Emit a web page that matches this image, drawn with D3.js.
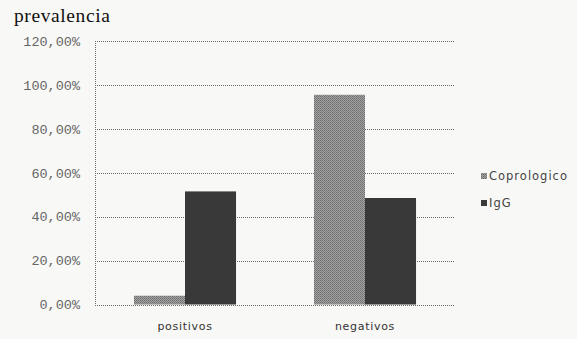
<!DOCTYPE html>
<html>
<head>
<meta charset="utf-8">
<script src="https://cdn.jsdelivr.net/npm/d3@7"></script>
<style>
  html, body { margin: 0; padding: 0; background: #f8f8f6; }
  svg { display: block; }
</style>
</head>
<body>
<div id="chart"></div>
<script>
// Prevalencia por método diagnóstico
const categories = ["positivos", "negativos"];
const seriesNames = ["Coprologico", "IgG"];
const coprologico = [4.0, 95.5];
const igg = [51.5, 48.5];
const yTicks = [0, 20, 40, 60, 80, 100, 120];

const W = 577, H = 339;
const plot = { left: 95, right: 455, top: 41, bottom: 304.5 };

const svg = d3.select("#chart").append("svg")
  .attr("width", W).attr("height", H);

// dithered fill for the Coprologico bars
const defs = svg.append("defs");
const pat = defs.append("pattern")
  .attr("id", "dither").attr("width", 2).attr("height", 2)
  .attr("patternUnits", "userSpaceOnUse");
pat.append("rect").attr("width", 2).attr("height", 2).attr("fill", "#a4a4a4");
pat.append("rect").attr("width", 1).attr("height", 1).attr("fill", "#6a6a6a");
pat.append("rect").attr("x", 1).attr("y", 1).attr("width", 1).attr("height", 1).attr("fill", "#7a7a7a");

const y = d3.scaleLinear().domain([0, 120]).range([plot.bottom, plot.top]);
const x0 = d3.scaleBand().domain(categories).range([plot.left, plot.right])
  .paddingInner(0.433).paddingOuter(0.2165);
const x1 = d3.scaleBand().domain(seriesNames).range([0, x0.bandwidth()]).padding(0);

const fills = { "Coprologico": "url(#dither)", "IgG": "#393939" };

// title
svg.append("text")
  .attr("x", 14).attr("y", 22)
  .attr("font-family", "Liberation Serif, Times New Roman, serif")
  .attr("font-size", 19.5).attr("letter-spacing", 0.6)
  .attr("fill", "#111")
  .text("prevalencia");

// horizontal gridlines (dotted)
svg.append("g").selectAll("line").data(yTicks).join("line")
  .attr("x1", plot.left).attr("x2", plot.right)
  .attr("y1", d => Math.round(y(d)) + 0.5).attr("y2", d => Math.round(y(d)) + 0.5)
  .attr("stroke", "#6a6a6a").attr("stroke-width", 1)
  .attr("stroke-dasharray", "1,1");

// left axis line (dotted)
svg.append("line")
  .attr("x1", plot.left + 0.5).attr("x2", plot.left + 0.5)
  .attr("y1", plot.top).attr("y2", plot.bottom)
  .attr("stroke", "#6a6a6a").attr("stroke-dasharray", "1,1");

// y axis labels
const yAxis = d3.axisLeft(y).tickValues(yTicks).tickSize(0).tickPadding(0)
  .tickFormat(d => d3.format(".2f")(d).replace(".", ",") + "%");
const gy = svg.append("g").attr("transform", `translate(80,0)`).call(yAxis);
gy.select(".domain").remove();
gy.selectAll("text")
  .attr("font-family", "Liberation Mono, Courier New, monospace")
  .attr("font-size", 13.5).attr("fill", "#666");

// bars
const rows = categories.map((c, i) => ({ cat: c, values: [
  { key: "Coprologico", v: coprologico[i] },
  { key: "IgG", v: igg[i] }
]}));
const groups = svg.append("g").selectAll("g").data(rows).join("g")
  .attr("transform", d => `translate(${x0(d.cat)},0)`);
groups.selectAll("rect").data(d => d.values).join("rect")
  .attr("x", d => x1(d.key))
  .attr("width", x1.bandwidth())
  .attr("y", d => y(d.v))
  .attr("height", d => y(0) - y(d.v))
  .attr("fill", d => fills[d.key]);

// x axis labels
const xAxis = d3.axisBottom(x0).tickSize(0).tickPadding(0);
const gx = svg.append("g").attr("transform", `translate(0,${plot.bottom + 18})`).call(xAxis);
gx.select(".domain").remove();
gx.selectAll("text")
  .attr("font-family", "DejaVu Sans, Verdana, sans-serif")
  .attr("font-size", 11).attr("letter-spacing", 0.7).attr("fill", "#333");

// legend
const legend = svg.append("g").selectAll("g").data(seriesNames).join("g")
  .attr("transform", (d, i) => `translate(481,${176 + i * 27})`);
legend.append("rect")
  .attr("x", 0).attr("y", -3).attr("width", 6).attr("height", 6)
  .attr("fill", d => fills[d]);
legend.append("text")
  .attr("x", 8).attr("y", 0).attr("dy", "0.35em")
  .attr("font-family", "DejaVu Sans, Verdana, sans-serif")
  .attr("font-size", 11.5).attr("letter-spacing", 1).attr("fill", "#444")
  .text(d => d);
</script>
</body>
</html>
